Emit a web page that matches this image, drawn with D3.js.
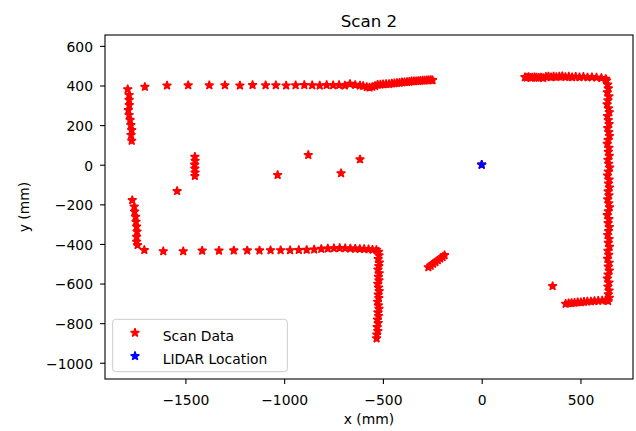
<!DOCTYPE html>
<html>
<head>
<meta charset="utf-8">
<script src="https://cdn.jsdelivr.net/npm/d3@7"></script>
<style>
  body { margin: 0; background: #fff; }
  text { font-family: "DejaVu Sans", sans-serif; fill: #000; }
</style>
</head>
<body>
<div id="chart"></div>
<script>
// scan points (mm), grouped by wall
var leftWallUpper = [[-1792,381],[-1785,352],[-1785,327],[-1784,301],[-1789,276],[-1785,251],[-1780,226],[-1776,200],[-1772,175],[-1775,150],[-1772,121]];
var topWallLeft = [[-1705,393],[-1593,400],[-1486,401],[-1379,401],[-1300,401],[-1224,400],[-1160,402],[-1094,401],[-1042,401],[-990,400],[-942,401],[-898,402],[-858,401],[-820,400],[-785,402],[-752,401],[-722,402],[-693,400],[-667,408],[-640,403],[-616,400],[-600,398]];
var topWallRight = [[-582,392],[-568,390],[-554,393],[-540,398],[-527,404],[-513,405],[-499,406],[-484,407],[-469,408],[-455,410],[-442,411],[-429,413],[-416,414],[-403,416],[-391,417],[-378,418],[-366,419],[-355,421],[-343,421],[-332,422],[-321,423],[-310,424],[-299,425],[-289,425],[-278,426],[-268,427],[-258,428],[-249,427]];
var rightTopWall = [[219,442],[229,440],[238,443],[248,439],[257,441],[268,442],[278,440],[289,439],[300,441],[311,438],[325,444],[338,446],[351,442],[364,445],[378,443],[393,445],[408,447],[424,443],[441,445],[458,442],[476,444],[495,442],[515,444],[536,441],[558,442],[581,440],[606,438],[628,433]];
var rightWall = [[632,425],[638,405],[641,385],[636,365],[644,345],[639,325],[635,305],[642,285],[646,265],[637,245],[641,225],[645,205],[638,185],[643,165],[647,145],[640,125],[636,105],[644,85],[641,65],[646,45],[639,25],[643,5],[648,-15],[641,-35],[637,-55],[645,-75],[642,-95],[647,-115],[640,-135],[644,-155],[638,-175],[643,-195],[647,-215],[641,-235],[636,-255],[644,-275],[640,-295],[646,-315],[642,-335],[638,-355],[645,-375],[641,-395],[647,-415],[639,-435],[643,-455],[637,-475],[645,-495],[641,-515],[646,-535],[640,-555],[636,-575],[644,-595],[639,-615],[645,-635],[641,-655],[646,-672],[640,-688]];
var bottomRightWall = [[425,-702],[440,-700],[455,-698],[470,-697],[486,-695],[502,-694],[518,-692],[535,-691],[553,-690],[571,-688],[590,-687],[610,-686],[628,-684]];
var diagonalWall = [[-270,-518],[-258,-510],[-246,-500],[-234,-492],[-222,-483],[-210,-474],[-198,-466],[-188,-457]];
var doorColumn = [[-522,-440],[-520,-458],[-524,-476],[-518,-494],[-521,-512],[-525,-530],[-519,-548],[-523,-566],[-520,-584],[-526,-602],[-522,-620],[-519,-638],[-524,-656],[-521,-674],[-527,-692],[-523,-710],[-520,-728],[-525,-746],[-522,-764],[-528,-782],[-524,-800],[-529,-820],[-526,-840],[-531,-858],[-532,-877]];
var bottomWallLeft = [[-1708,-431],[-1612,-437],[-1511,-437],[-1415,-434],[-1330,-434],[-1255,-433],[-1187,-433],[-1125,-433],[-1069,-432],[-1018,-432],[-970,-432],[-926,-431],[-886,-430],[-848,-428],[-812,-425],[-779,-423],[-748,-422],[-719,-421],[-691,-422],[-665,-423],[-640,-424],[-617,-425],[-595,-426],[-573,-427],[-553,-429],[-533,-430]];
var leftWallLower = [[-1769,-179],[-1759,-212],[-1757,-237],[-1752,-263],[-1750,-288],[-1747,-313],[-1745,-338],[-1747,-364],[-1747,-389],[-1742,-406]];
var postColumn = [[-1452,40],[-1451,20],[-1453,0],[-1452,-20],[-1451,-40],[-1452,-57]];
var strayPoints = [[359,-613],[-1542,-133],[-1033,-52],[-878,49],[-712,-43],[-616,27],[0,0]];
var lidar = [[0,0]];

var xTicks = [-1500, -1000, -500, 0, 500];
var yTicks = [-1000, -800, -600, -400, -200, 0, 200, 400, 600];

var scanData = [].concat(leftWallUpper, topWallLeft, topWallRight, rightTopWall, rightWall,
  bottomRightWall, diagonalWall, doorColumn, bottomWallLeft, leftWallLower, postColumn, strayPoints);

var w = 636;
var h = 431;
var plotL = 105, plotR = 633, plotT = 35, plotB = 379;

var svg = d3.select("#chart")
  .append("svg")
  .attr("width", w)
  .attr("height", h);

svg.append("rect").attr("width", w).attr("height", h).attr("fill", "#fff");

var x = d3.scaleLinear().domain([-1907, 766]).range([plotL, plotR]);
var y = d3.scaleLinear().domain([-1082, 655]).range([plotB, plotT]);

svg.append("clipPath").attr("id", "clip")
  .append("rect")
  .attr("x", plotL).attr("y", plotT)
  .attr("width", plotR - plotL).attr("height", plotB - plotT);

var star = d3.symbol().type(d3.symbolStar).size(23);

function drawStars(data, color){
  svg.append("g")
    .attr("clip-path", "url(#clip)")
    .selectAll("path")
    .data(data)
    .enter()
    .append("path")
    .attr("d", star)
    .attr("transform", function(d){ return "translate(" + x(d[0]) + "," + y(d[1]) + ")"; })
    .attr("fill", color)
    .attr("stroke", color)
    .attr("stroke-width", 1.4)
    .attr("stroke-linejoin", "bevel");
}

drawStars(scanData, "#ff0000");
drawStars(lidar, "#0000ff");

// axes
var fmt = d3.format("d");

var gx = svg.append("g")
  .attr("transform", "translate(0," + plotB + ")")
  .call(d3.axisBottom(x).tickValues(xTicks).tickSize(4.9).tickFormat(fmt));
gx.select(".domain").remove();
gx.selectAll("line").attr("stroke", "#000").attr("stroke-width", 1.1);
gx.selectAll("text")
  .attr("y", 26)
  .attr("dy", 0)
  .style("font-size", "13.9px")
  .style("font-family", "DejaVu Sans")
  .attr("fill", "#000");

var gy = svg.append("g")
  .attr("transform", "translate(" + plotL + ",0)")
  .call(d3.axisLeft(y).tickValues(yTicks).tickSize(4.9).tickFormat(fmt));
gy.select(".domain").remove();
gy.selectAll("line").attr("stroke", "#000").attr("stroke-width", 1.1);
gy.selectAll("text")
  .attr("x", -12)
  .attr("dy", 5.3)
  .style("font-size", "13.9px")
  .style("font-family", "DejaVu Sans")
  .attr("fill", "#000");

// frame
svg.append("rect")
  .attr("x", plotL).attr("y", plotT)
  .attr("width", plotR - plotL).attr("height", plotB - plotT)
  .attr("fill", "none")
  .attr("stroke", "#000")
  .attr("stroke-width", 1.1);

// titles
svg.append("text")
  .attr("x", (plotL + plotR) / 2).attr("y", 26.5)
  .attr("text-anchor", "middle")
  .style("font-size", "16.7px")
  .text("Scan 2");

svg.append("text")
  .attr("x", (plotL + plotR) / 2).attr("y", 424)
  .attr("text-anchor", "middle")
  .style("font-size", "13.9px")
  .text("x (mm)");

svg.append("text")
  .attr("transform", "translate(29," + (plotT + plotB) / 2 + ") rotate(-90)")
  .attr("text-anchor", "middle")
  .style("font-size", "13.9px")
  .text("y (mm)");

// legend
var legend = svg.append("g");
legend.append("rect")
  .attr("x", 112.7).attr("y", 319.3)
  .attr("width", 174.6).attr("height", 52.4)
  .attr("rx", 2.8)
  .attr("fill", "#fff").attr("fill-opacity", 0.8)
  .attr("stroke", "#cccccc").attr("stroke-width", 1);

var legendItems = [["Scan Data", "#ff0000"], ["LIDAR Location", "#0000ff"]];
legendItems.forEach(function(d, i){
  var cy = 332.8 + i * 23.3;
  legend.append("path")
    .attr("d", star)
    .attr("transform", "translate(135," + cy + ")")
    .attr("fill", d[1]).attr("stroke", d[1])
    .attr("stroke-width", 1.4).attr("stroke-linejoin", "bevel");
  legend.append("text")
    .attr("x", 162.7).attr("y", cy + 7.8)
    .style("font-size", "13.9px")
    .text(d[0]);
});
</script>
</body>
</html>
